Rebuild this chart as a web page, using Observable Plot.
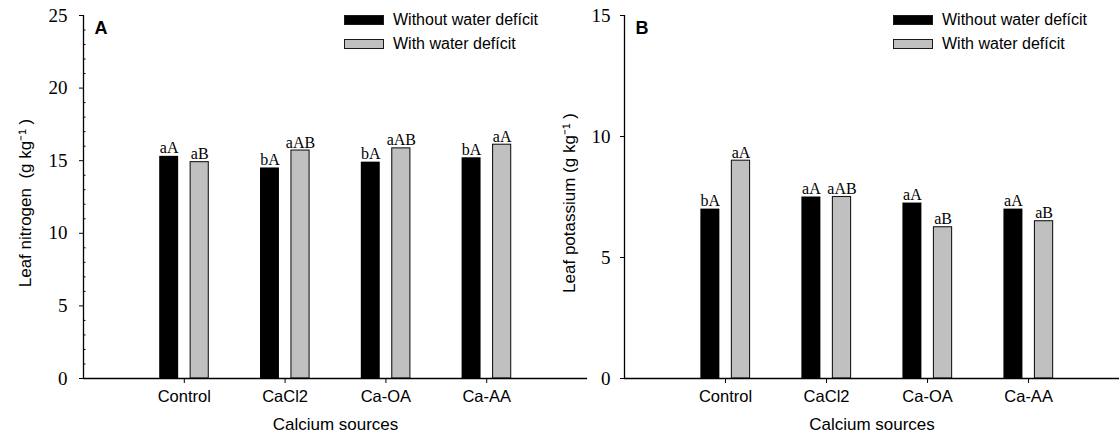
<!DOCTYPE html>
<html>
<head>
<meta charset="utf-8">
<script src="https://cdn.jsdelivr.net/npm/d3@7"></script>
<script src="https://cdn.jsdelivr.net/npm/@observablehq/plot@0.6"></script>
<style>
  html, body { margin: 0; padding: 0; background: #fff; overflow: hidden; }
  #wrap { position: relative; width: 1119px; height: 435px; }
  #wrap svg { position: absolute; top: 0; }
  .legend { position: absolute; font-family: "Liberation Sans", Arial, sans-serif; font-size: 16px; color: #000; }
  .legend .row { position: absolute; left: 0; white-space: nowrap; height: 12px; }
  .legend .sw { position: absolute; left: 0; width: 40px; height: 10px; box-sizing: border-box; }
  .legend .lab { position: absolute; left: 49px; top: -4px; line-height: 18px; }
</style>
</head>
<body>
<div id="wrap"></div>
<script>
// ---- data ----
const categories = ["Control", "CaCl2", "Ca-OA", "Ca-AA"];
const seriesNames = ["Without water defícit", "With water defícit"];

const nitrogenWithout = [15.3, 14.5, 14.9, 15.2];
const nitrogenWith = [14.9, 15.7, 15.85, 16.1];
const nitrogenLettersWithout = ["aA", "bA", "bA", "bA"];
const nitrogenLettersWith = ["aB", "aAB", "aAB", "aA"];
const nitrogenTicks = [0, 5, 10, 15, 20, 25];
const nitrogenMinorTicks = [1, 2, 3, 4, 6, 7, 8, 9, 11, 12, 13, 14, 16, 17, 18, 19, 21, 22, 23, 24];

const potassiumWithout = [7.0, 7.5, 7.25, 7.0];
const potassiumWith = [9.0, 7.5, 6.25, 6.5];
const potassiumLettersWithout = ["bA", "aA", "aA", "aA"];
const potassiumLettersWith = ["aA", "aAB", "aB", "aB"];
const potassiumTicks = [0, 5, 10, 15];

const xLabel = "Calcium sources";
const nitrogenLabel = "Leaf nitrogen  (g kg\u207B\u00B9 )";
const potassiumLabel = "Leaf potassium (g kg\u207B\u00B9 )";

// ---- styles ----
const SERIF = "'Liberation Serif', 'Times New Roman', serif";
const SANS = "'Liberation Sans', Arial, sans-serif";
const BAR_W = 0.188;
const OFFSETS = [-0.15, 0.153];
const FILLS = ["#000000", "#c0c0c0"];

function buildRows(without, withD, lw, lwith) {
  const rows = [];
  categories.forEach((c, i) => {
    rows.push({cat: c, pos: i + 1 + OFFSETS[0], center: i + 1, s: 0, v: without[i], letter: lw[i]});
    rows.push({cat: c, pos: i + 1 + OFFSETS[1], center: i + 1, s: 1, v: withD[i], letter: lwith[i]});
  });
  return rows;
}

function panel(opts) {
  const rows = buildRows(opts.without, opts.withD, opts.lw, opts.lwith);
  const marks = [
    Plot.rectY(rows.filter(d => d.s === 0), {
      x1: d => d.pos - BAR_W / 2, x2: d => d.pos + BAR_W / 2, y1: 0, y2: "v", fill: FILLS[0]
    }),
    Plot.rectY(rows.filter(d => d.s === 1), {
      x1: d => d.pos - BAR_W / 2 + 0.004, x2: d => d.pos + BAR_W / 2 - 0.004, y1: 0, y2: "v",
      fill: FILLS[1], stroke: "#1a1a1a", strokeWidth: 1.1
    }),
    Plot.text(rows, {
      x: "pos", y: "v", text: "letter", dy: -3, lineAnchor: "bottom",
      fontFamily: SERIF, fontSize: 16, fill: "#000"
    }),
    Plot.ruleY([0], {stroke: "#000", strokeWidth: 1.6}),
    Plot.ruleX([0], {stroke: "#000", strokeWidth: 1.3}),
    Plot.axisY({
      ticks: opts.yTicks, tickSize: 4, tickPadding: opts.tickPadding,
      fontFamily: SERIF, fontSize: 19, label: null, stroke: "#000", color: "#000", fill: "#000"
    }),
    Plot.axisX({
      ticks: categories.map((c, i) => i + 1), tickFormat: v => categories[v - 1],
      tickSize: 5, tickPadding: 7, fontFamily: SANS, fontSize: 16.5, label: null, fill: "#000"
    }),
    Plot.text([xLabel], {
      text: d => d, frameAnchor: "bottom", dy: 51, lineAnchor: "bottom",
      fontFamily: SANS, fontSize: 17, fill: "#000"
    }),
    Plot.text([opts.ylabel], {
      text: d => d, frameAnchor: "left", rotate: -90, dx: opts.yLabelDx, dy: 6,
      textAnchor: "middle", lineAnchor: "middle",
      fontFamily: SANS, fontSize: 17, fill: "#000"
    }),
    Plot.text([opts.tag], {
      text: d => d, frameAnchor: "top-left", dx: 11, dy: 6, lineAnchor: "top", textAnchor: "start",
      fontFamily: SANS, fontSize: 18, fontWeight: "bold", fill: "#000"
    })
  ];
  if (opts.minor) {
    marks.push(Plot.axisY({
      ticks: opts.minor, tickSize: -2.5, tickFormat: () => "", label: null, stroke: "#000"
    }));
  }
  const svg = Plot.plot({
    width: opts.width, height: 435,
    marginLeft: opts.marginLeft, marginRight: opts.marginRight,
    marginTop: 15, marginBottom: 57,
    x: {type: "linear", domain: [0, opts.xMax]},
    y: {domain: [0, opts.yMax]},
    style: {background: "transparent", color: "#000", overflow: "visible"},
    marks
  });
  svg.style.left = opts.left + "px";
  return svg;
}

const wrap = document.getElementById("wrap");

wrap.appendChild(panel({
  without: nitrogenWithout, withD: nitrogenWith,
  lw: nitrogenLettersWithout, lwith: nitrogenLettersWith,
  yTicks: nitrogenTicks, minor: nitrogenMinorTicks, yMax: 25,
  width: 600, left: 0, marginLeft: 83, marginRight: 13, xMax: 5,
  tickPadding: 12, ylabel: nitrogenLabel, yLabelDx: -58, tag: "A"
}));

wrap.appendChild(panel({
  without: potassiumWithout, withD: potassiumWith,
  lw: potassiumLettersWithout, lwith: potassiumLettersWith,
  yTicks: potassiumTicks, minor: null, yMax: 15,
  width: 579, left: 540, marginLeft: 84, marginRight: 0, xMax: 4.9,
  tickPadding: 10, ylabel: potassiumLabel, yLabelDx: -55, tag: "B"
}));

function legend(left, top) {
  const lg = document.createElement("div");
  lg.className = "legend";
  lg.style.left = left + "px";
  lg.style.top = top + "px";
  seriesNames.forEach((name, i) => {
    const row = document.createElement("div");
    row.className = "row";
    row.style.top = (i * 24) + "px";
    const sw = document.createElement("div");
    sw.className = "sw";
    sw.style.background = FILLS[i];
    sw.style.border = "1.2px solid #1a1a1a";
    const lab = document.createElement("div");
    lab.className = "lab";
    lab.textContent = name;
    row.appendChild(sw);
    row.appendChild(lab);
    lg.appendChild(row);
  });
  wrap.appendChild(lg);
}
legend(344, 15);
legend(893, 15);
</script>
</body>
</html>
